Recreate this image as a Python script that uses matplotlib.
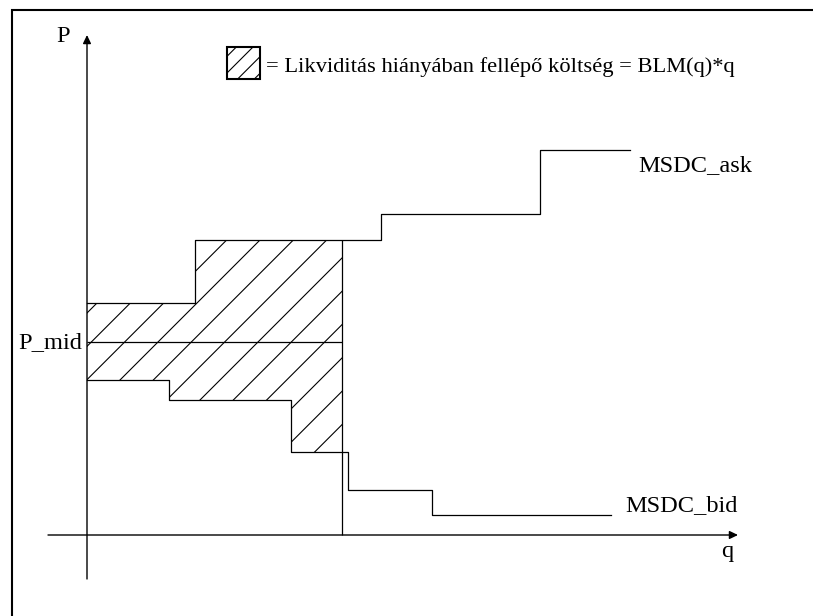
import numpy as np
import matplotlib.pyplot as plt
from matplotlib.patches import Rectangle

plt.rcParams['font.family'] = ['Liberation Serif', 'DejaVu Serif']
plt.rcParams['hatch.linewidth'] = 0.4

# lépcsős görbék: töréspontok (q) és árszintek (P)
ask_q = [0, 10.8, 29.4, 45.3, 54.3]
ask_p = [23.2, 29.5, 32.1, 38.5, 38.5]
bid_q = [0, 8.2, 20.4, 26.1, 34.5, 52.4]
bid_p = [15.5, 13.55, 8.35, 4.55, 2.0, 2.0]
q_star = 25.5
p_mid = 19.3

legend_text = '= Likviditás hiányában fellépő költség = BLM(q)*q'

fs = 8.8
lw = 0.45

fig = plt.figure(figsize=(8.13 / 2, 6.16 / 2), dpi=200)
ax = fig.add_axes([0, 0, 1, 1])
ax.set_xlim(-8.7, 72.6)
ax.set_ylim(-8.1, 53.5)
ax.axis('off')

# keret
fig.patches.append(Rectangle((12 / 813, -0.1), 1.2, 1.1 - 10 / 616, transform=fig.transFigure,
                             fill=False, lw=0.75, ec='black'))

# tengelyek
arrow = dict(arrowstyle='-|>,head_length=0.25,head_width=0.12', lw=0.5, color='black',
             shrinkA=0, shrinkB=0)
ax.annotate('', xy=(65.1, 0), xytext=(-3.9, 0), arrowprops=arrow)
ax.annotate('', xy=(0, 50.0), xytext=(0, -4.4), arrowprops=arrow)

# sraffozott terület q_star-ig
grid = np.union1d([b for b in ask_q if b < q_star], [b for b in bid_q if b < q_star])
grid = np.append(grid, q_star)
ask_at = np.array(ask_p)[np.searchsorted(ask_q, grid, side='right') - 1]
bid_at = np.array(bid_p)[np.searchsorted(bid_q, grid, side='right') - 1]
ax.fill_between(grid, bid_at, ask_at, step='post', facecolor='none', edgecolor='black',
                hatch='//', linewidth=0)

ax.step(ask_q, ask_p, where='post', color='black', lw=lw)
ax.step(bid_q, bid_p, where='post', color='black', lw=lw)
ax.vlines(q_star, 0, ask_at[-1], color='black', lw=lw)
ax.hlines(p_mid, 0, q_star, color='black', lw=lw)

# feliratok
ax.text(-2.4, 49.9, 'P', fontsize=fs, ha='center', va='center')
ax.text(64.0, -2.2, 'q', fontsize=fs, ha='center', va='baseline')
ax.text(-0.5, 19.2, 'P_mid', fontsize=fs, ha='right', va='center')
ax.text(55.1, 36.4, 'MSDC_ask', fontsize=fs, ha='left', va='baseline')
ax.text(53.8, 2.43, 'MSDC_bid', fontsize=fs, ha='left', va='baseline')

ax.add_patch(Rectangle((14.0, 45.6), 3.3, 3.2, fill=False, hatch='////', lw=0.75, ec='black'))
ax.text(17.9, 46.3, legend_text, fontsize=8.1, ha='left', va='baseline')

fig.savefig('out.png', dpi=200)
